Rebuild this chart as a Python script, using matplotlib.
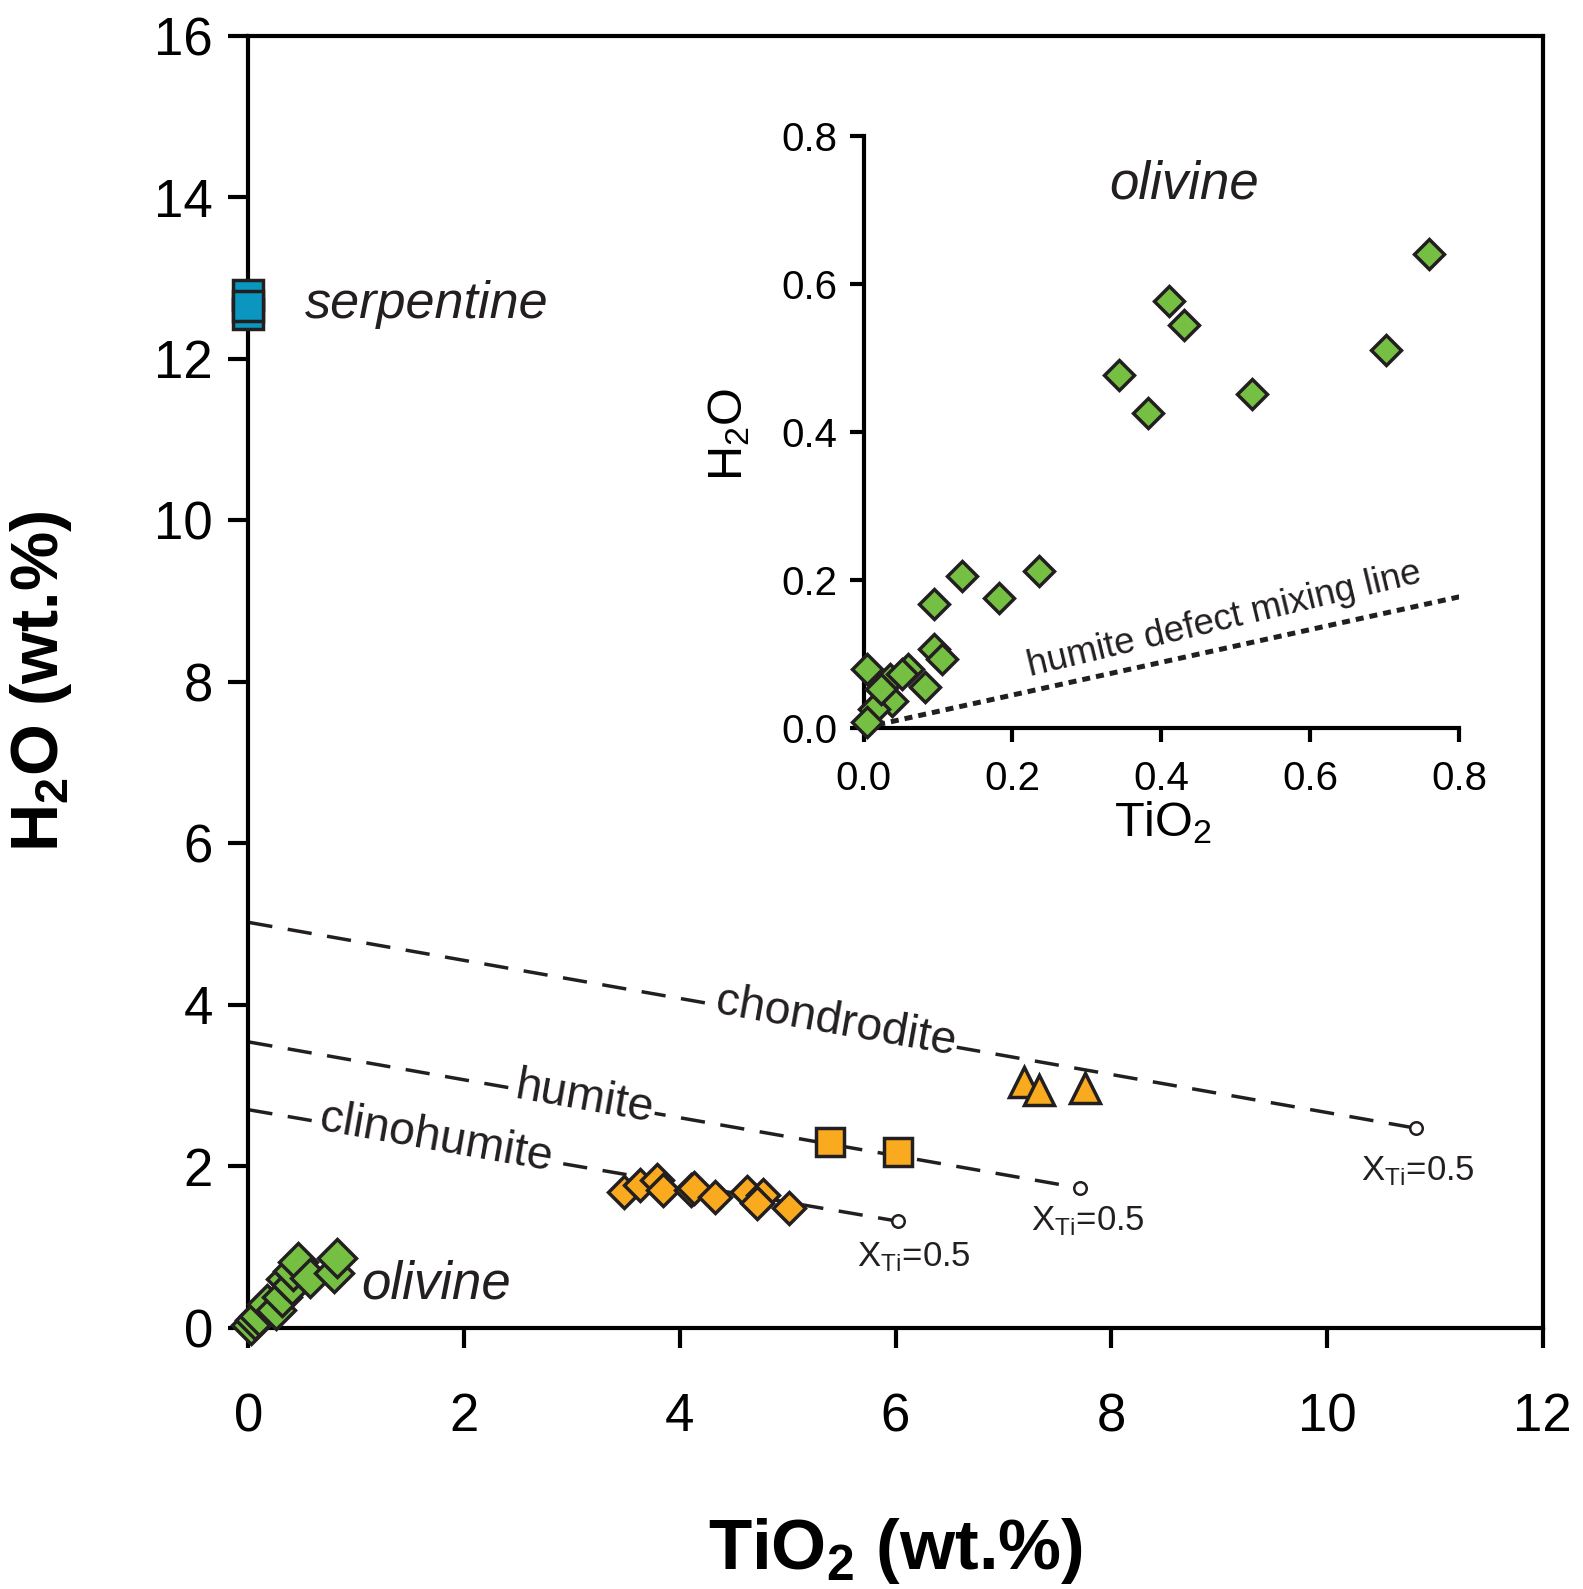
import numpy as np
import matplotlib
matplotlib.use('Agg')
import matplotlib.pyplot as plt

plt.rcParams['font.family'] = ['Liberation Sans', 'DejaVu Sans']
plt.rcParams['mathtext.fontset'] = 'custom'
plt.rcParams['mathtext.rm'] = 'Liberation Sans'
plt.rcParams['mathtext.it'] = 'Liberation Sans:italic'
plt.rcParams['mathtext.bf'] = 'Liberation Sans:bold'

# ---- data ----
serp_ti = [0.0, 0.0, 0.0]
serp_h2o = [12.79, 12.55, 12.65]

oliv_ti = [0.02, 0.06, 0.10, 0.17, 0.26, 0.31, 0.35, 0.40, 0.41, 0.46, 0.57, 0.79, 0.82]
oliv_h2o = [0.03, 0.10, 0.15, 0.30, 0.22, 0.38, 0.60, 0.53, 0.70, 0.82, 0.62, 0.68, 0.86]

chu_ti = [3.48, 3.63, 3.79, 3.84, 4.10, 4.13, 4.33, 4.62, 4.77, 4.72, 5.01]
chu_h2o = [1.68, 1.77, 1.83, 1.70, 1.70, 1.73, 1.62, 1.68, 1.64, 1.54, 1.48]

hum_ti = [5.39, 6.02]
hum_h2o = [2.30, 2.18]

chn_ti = [7.19, 7.33, 7.76]
chn_h2o = [3.04, 2.95, 2.97]

# ideal mixing lines: pure end member (TiO2=0) to X_Ti = 0.5
line_names = ['chondrodite', 'humite', 'clinohumite']
line_ti = [[0.0, 10.83], [0.0, 7.71], [0.0, 6.02]]
line_h2o = [[5.02, 2.47], [3.54, 1.73], [2.70, 1.32]]

# inset: olivine only
ins_ti = [0.759, 0.41, 0.43, 0.343, 0.382, 0.522, 0.702, 0.235, 0.132, 0.182,
          0.094, 0.094, 0.106, 0.06, 0.083, 0.004, 0.035, 0.038, 0.014, 0.004,
          0.024, 0.052]
ins_h2o = [0.64, 0.577, 0.545, 0.477, 0.425, 0.451, 0.51, 0.212, 0.205, 0.175,
           0.167, 0.107, 0.093, 0.079, 0.055, 0.079, 0.066, 0.036, 0.025, 0.008,
           0.052, 0.073]
mix_ti = [0.0, 0.8]
mix_h2o = [0.0, 0.177]

green = '#75c043'
orange = '#f9aa1e'
blue = '#0a96be'
edge = '#231f20'

fig = plt.figure(figsize=(15.83, 15.89), dpi=100)
ax = fig.add_axes([0.1569, 0.1644, 0.8176, 0.8132])

# dashed lines
for name, xs, ys in zip(line_names, line_ti, line_h2o):
    ax.plot(xs, ys, color=edge, lw=2.5, ls=(0, (7, 4.5)), zorder=2)
    ax.plot(xs[1], ys[1], 'o', ms=9, mfc='white', mec=edge, mew=1.8, zorder=3)

mk = dict(mec=edge, mew=2.5, ls='none', clip_on=False, zorder=4)
ax.plot(serp_ti, serp_h2o, 's', ms=21, mfc=blue, **mk)
ax.plot(oliv_ti, oliv_h2o, 'D', ms=19, mfc=green, **mk)
ax.plot(chu_ti, chu_h2o, 'D', ms=16.5, mfc=orange, **mk)
ax.plot(hum_ti, hum_h2o, 's', ms=19.5, mfc=orange, **mk)
ax.plot(chn_ti, chn_h2o, '^', ms=22, mfc=orange, **mk)

ax.text(0.52, 12.67, 'serpentine', fontsize=37.5, style='italic', va='center', color=edge)
ax.text(1.05, 0.53, 'olivine', fontsize=38, style='italic', va='center', color=edge)
bb = dict(facecolor='white', edgecolor='none', pad=1)
ax.text(5.45, 3.78, 'chondrodite', fontsize=33.5, rotation=-10, ha='center', va='center',
        color=edge, bbox=bb, zorder=3)
ax.text(3.12, 2.84, 'humite', fontsize=33.5, rotation=-10, ha='center', va='center',
        color=edge, bbox=bb, zorder=3)
ax.text(1.74, 2.34, 'clinohumite', fontsize=33.5, rotation=-10, ha='center', va='center',
        color=edge, bbox=bb, zorder=3)
for (x, y) in [(10.84, 1.94), (7.78, 1.32), (6.17, 0.88)]:
    ax.text(x, y, r'X$_\mathrm{Ti}$=0.5', fontsize=25, ha='center', va='center', color=edge)

ax.set_xlim(0, 12)
ax.set_ylim(0, 16)
ax.set_xticks(np.arange(0, 13, 2))
ax.set_yticks(np.arange(0, 17, 2))
for s in ax.spines.values():
    s.set_linewidth(3)
ax.tick_params(direction='out', length=14.5, width=3, labelsize=38)
ax.tick_params(axis='x', pad=32)
ax.tick_params(axis='y', pad=11)
ax.set_xlabel(r'TiO$_\mathbf{2}$ (wt.%)', fontsize=51, fontweight='bold')
ax.set_ylabel(r'H$_\mathbf{2}$O (wt.%)', fontsize=48, fontweight='bold')
ax.xaxis.set_label_coords(0.5, -0.173)
ax.xaxis.label.set_va('center')
ax.yaxis.set_label_coords(-0.1606, 0.5)
ax.yaxis.label.set_va('center')

# ---- inset ----
ax2 = fig.add_axes([0.5455, 0.542, 0.3764, 0.3725])
ax2.patch.set_visible(False)
ax2.plot(mix_ti, mix_h2o, color=edge, lw=3.6, ls=(0, (1.6, 1.2)), dash_capstyle='butt', zorder=2)
ax2.plot(ins_ti, ins_h2o, 'D', ms=15.5, mfc=green, **mk)
ax2.text(0.43, 0.734, 'olivine', fontsize=38, style='italic', ha='center', va='center', color=edge)
ax2.text(0.484, 0.146, 'humite defect mixing line', fontsize=26.5, rotation=13.5,
         ha='center', va='center', color=edge)
ax2.set_xlim(0, 0.8)
ax2.set_ylim(0, 0.8)
ticks = np.arange(0, 0.81, 0.2)
ax2.set_xticks(ticks)
ax2.set_yticks(ticks)
ax2.set_xticklabels(['%.1f' % t for t in ticks])
ax2.set_yticklabels(['%.1f' % t for t in ticks])
ax2.spines['top'].set_visible(False)
ax2.spines['right'].set_visible(False)
ax2.spines['left'].set_linewidth(3)
ax2.spines['bottom'].set_linewidth(3)
ax2.tick_params(direction='out', length=10, width=3, labelsize=29)
ax2.tick_params(axis='x', pad=13)
ax2.tick_params(axis='y', pad=9)
ax2.set_xlabel(r'TiO$_2$', fontsize=35)
ax2.set_ylabel(r'H$_2$O', fontsize=35)
ax2.xaxis.set_label_coords(0.503, -0.161)
ax2.xaxis.label.set_va('center')
ax2.yaxis.set_label_coords(-0.2245, 0.4965)
ax2.yaxis.label.set_va('center')

fig.savefig('out.png', dpi=100)
